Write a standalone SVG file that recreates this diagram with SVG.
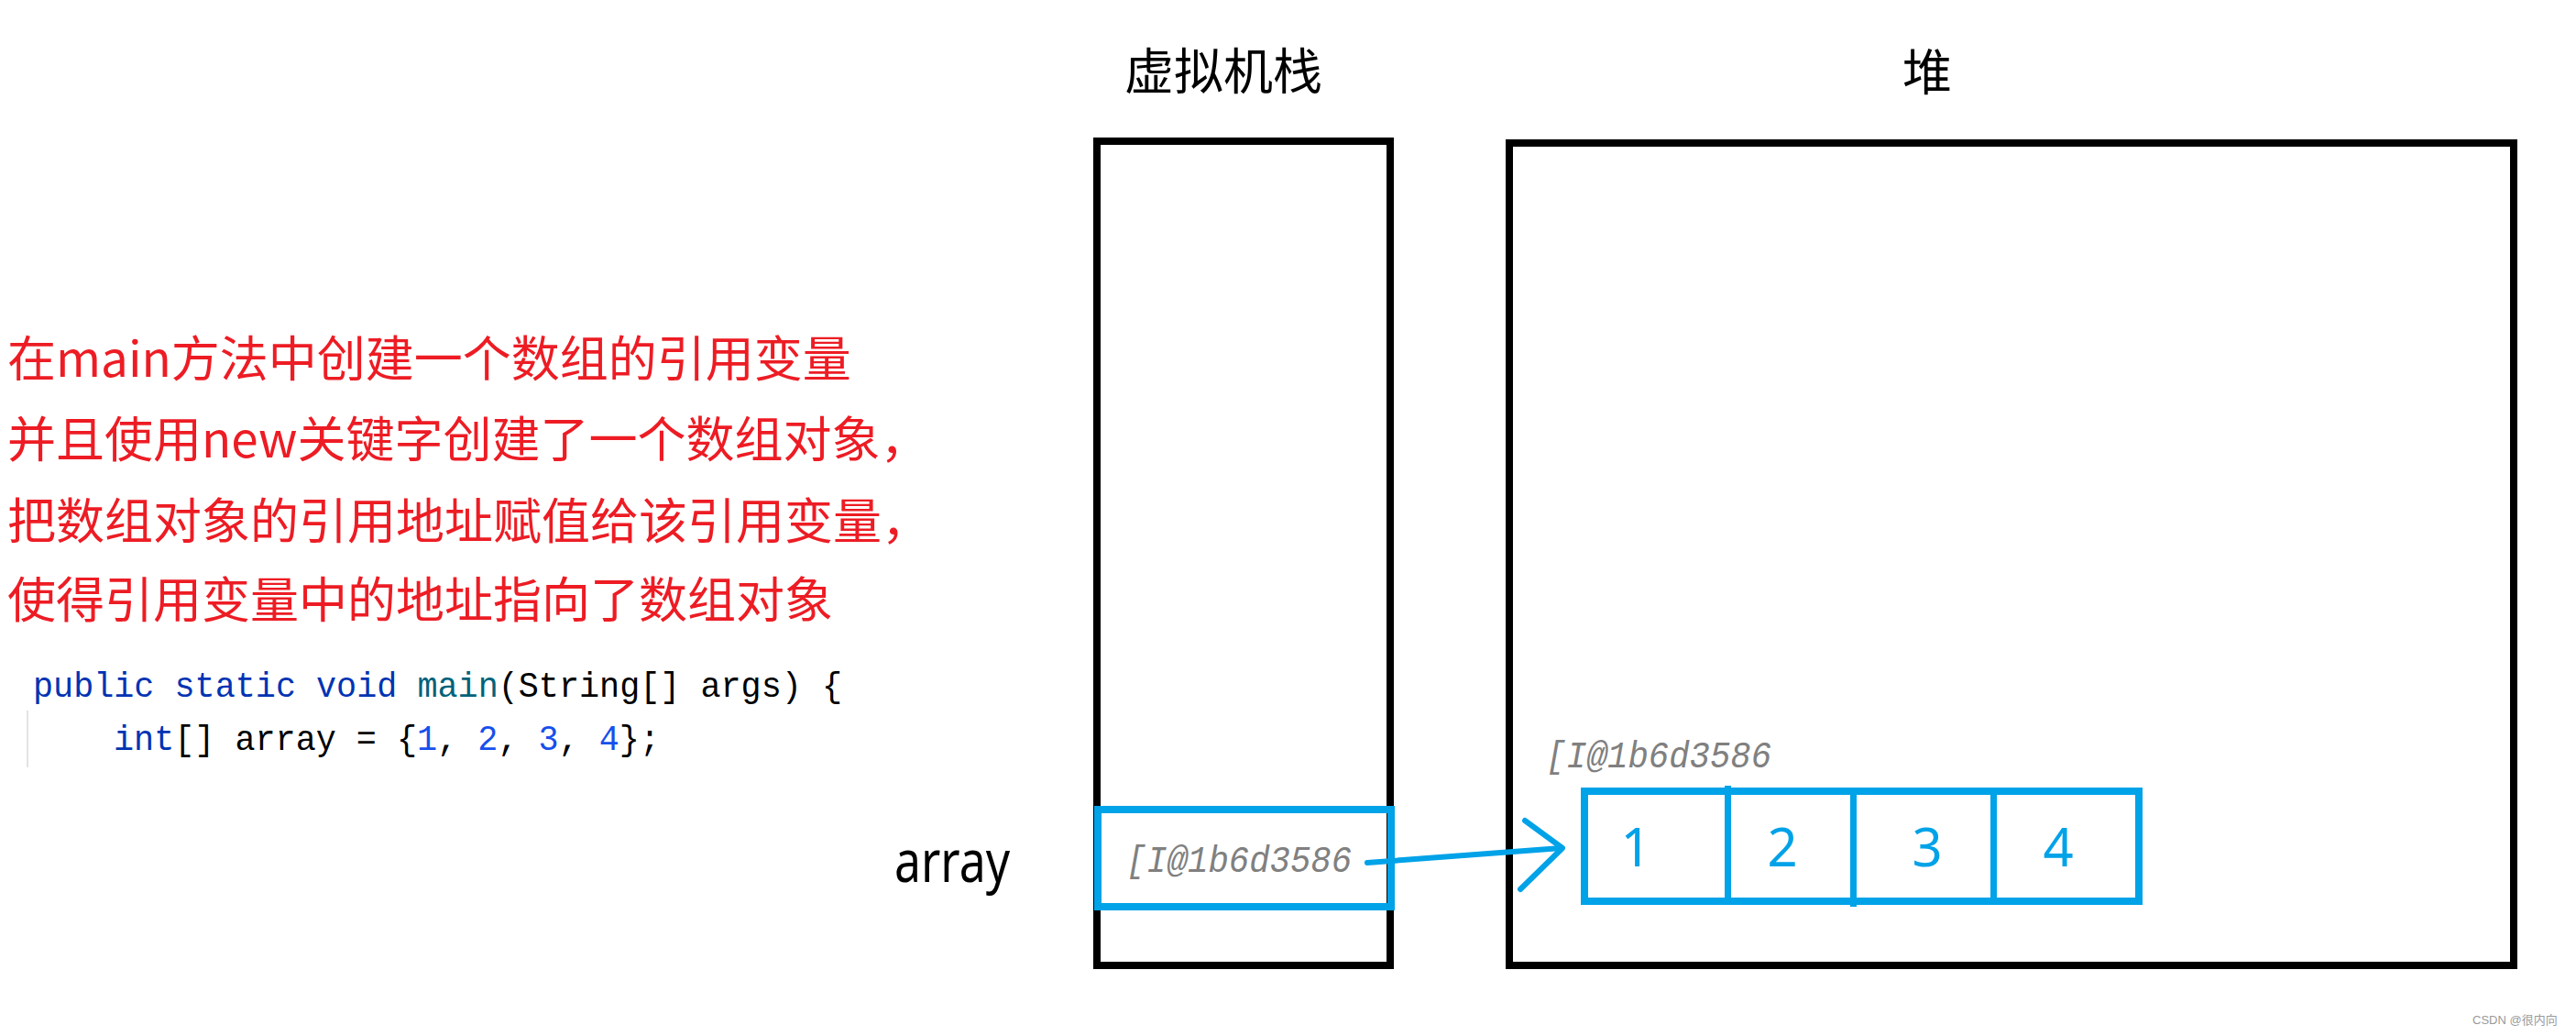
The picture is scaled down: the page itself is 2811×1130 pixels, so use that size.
<svg xmlns="http://www.w3.org/2000/svg" width="2811" height="1130" viewBox="0 0 2811 1130">
  <style>
    .frame { fill: none; stroke: #000000; stroke-width: 8; }
    .blue { fill: none; stroke: #00A2E8; stroke-width: 8; }
    .bdiv { stroke: #00A2E8; stroke-width: 7; }
    .title { font-family: "Noto Sans CJK SC", "Noto Sans", sans-serif; font-size: 54px; fill: #000000; }
    .note { font-family: "Noto Sans CJK SC", "Noto Sans", sans-serif; font-size: 53px; fill: #ED1C24; }
    .code { font-family: "Liberation Mono", "DejaVu Sans Mono", monospace; font-size: 39px; fill: #000000; }
    .kw { fill: #0033B3; }
    .fn { fill: #00627A; }
    .num { fill: #1750EB; }
    .addr { font-family: "Liberation Mono", "DejaVu Sans Mono", monospace; font-style: italic; font-size: 41px; fill: #808080; }
    .digit { font-family: "Noto Sans", "Liberation Sans", sans-serif; font-size: 58px; fill: #00A2E8; text-anchor: middle; }
    .conn { fill: none; stroke: #00A2E8; stroke-width: 6; stroke-linecap: round; stroke-linejoin: round; }
  </style>

  <g id="note">
    <text class="note" x="8" y="411">在main方法中创建一个数组的引用变量</text>
    <text class="note" x="8" y="499">并且使用new关键字创建了一个数组对象，</text>
    <text class="note" x="8" y="588">把数组对象的引用地址赋值给该引用变量，</text>
    <text class="note" x="8" y="674">使得引用变量中的地址指向了数组对象</text>
  </g>

  <g id="code">
    <line x1="30" y1="775" x2="30" y2="837" stroke="#E3E3E3" stroke-width="2"/>
    <text class="code" x="36" y="760" textLength="883" lengthAdjust="spacingAndGlyphs" xml:space="preserve"><tspan class="kw">public static void </tspan><tspan class="fn">main</tspan>(String[] args) {</text>
    <text class="code" x="124" y="818" textLength="596" lengthAdjust="spacingAndGlyphs" xml:space="preserve"><tspan class="kw">int</tspan>[] array = {<tspan class="num">1</tspan>, <tspan class="num">2</tspan>, <tspan class="num">3</tspan>, <tspan class="num">4</tspan>};</text>
  </g>

  <g id="array-label">
    <text x="976" y="962" font-family="Noto Sans, Liberation Sans, sans-serif" font-size="64" textLength="126" lengthAdjust="spacingAndGlyphs" fill="#000000">array</text>
  </g>

  <g id="stack">
    <text class="title" x="1227" y="98">虚拟机栈</text>
    <rect class="frame" x="1197" y="154" width="320" height="899"/>
  </g>

  <g id="heap">
    <text class="title" x="2076" y="99">堆</text>
    <rect class="frame" x="1647" y="156" width="1096" height="897"/>
  </g>

  <g id="stack-slot">
    <rect class="blue" x="1198" y="883" width="320" height="106"/>
    <text class="addr" x="1229" y="951" textLength="246" lengthAdjust="spacingAndGlyphs">[I@1b6d3586</text>
  </g>

  <g id="array-object">
    <text class="addr" x="1687" y="837" textLength="246" lengthAdjust="spacingAndGlyphs">[I@1b6d3586</text>
    <rect class="blue" x="1729" y="863" width="605" height="120"/>
    <line class="bdiv" x1="1885.5" y1="857" x2="1885.5" y2="983"/>
    <line class="bdiv" x1="2022.5" y1="863" x2="2022.5" y2="989"/>
    <line class="bdiv" x1="2175.5" y1="863" x2="2175.5" y2="983"/>
    <text class="digit" x="1785" y="945">1</text>
    <text class="digit" x="1945" y="945">2</text>
    <text class="digit" x="2103" y="945">3</text>
    <text class="digit" x="2246" y="945">4</text>
  </g>

  <g id="connectors">
    <path class="conn" d="M1492,941 L1704,925"/>
    <polyline class="conn" points="1664,895 1705,925 1659,970"/>
  </g>

  <g id="watermark">
    <text x="2698" y="1117" font-family="Liberation Sans, Noto Sans CJK SC, sans-serif" font-size="13" fill="#9A9A9A">CSDN @很内向</text>
  </g>
</svg>
